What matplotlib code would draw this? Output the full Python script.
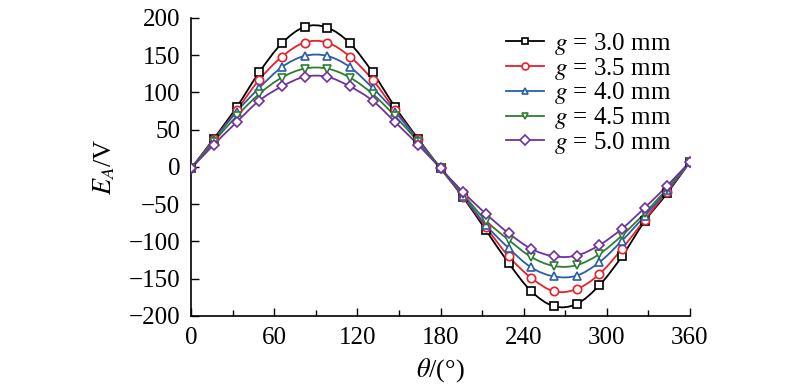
import numpy as np
import matplotlib.pyplot as plt
from matplotlib.path import Path
from matplotlib.patches import PathPatch
from matplotlib.lines import Line2D

plt.rcParams['font.family'] = 'Liberation Serif'
plt.rcParams['mathtext.fontset'] = 'stix'
plt.rcParams['font.size'] = 18

theta = np.arange(23) * 360 / 22

ea_30 = [-2, 38, 80, 127, 166, 188, 187, 166, 127, 80, 38, -2,
         -41, -85, -129, -167, -187, -184, -159, -120, -73, -35, 7]
ea_35 = [-2, 37, 76, 117, 148, 167, 167, 148, 117, 76, 37, -2,
         -40, -81, -120, -149, -167, -164, -144, -110, -71, -33, 7]
ea_40 = [-2, 36, 74, 106, 134, 149, 149, 134, 106, 74, 36, -2,
         -39, -78, -109, -135, -147, -146, -128, -99, -66, -31, 7]
ea_45 = [-2, 34, 68, 98, 120, 132, 132, 120, 98, 68, 34, -2,
         -37, -72, -98, -121, -133, -132, -117, -92, -62, -29, 7]
ea_50 = [-2, 30, 60, 89, 108, 121, 121, 108, 89, 60, 30, -2,
         -34, -63, -89, -110, -120, -119, -105, -83, -55, -25, 7]

series = [ea_30, ea_35, ea_40, ea_45, ea_50]
labels = ['$g$ = 3.0 mm', '$g$ = 3.5 mm', '$g$ = 4.0 mm', '$g$ = 4.5 mm', '$g$ = 5.0 mm']
colors = ['#000000', '#e8202a', '#2a5caa', '#2e7d32', '#7030a0']
markers = ['s', 'o', '^', 'v', 'D']


def smooth_path(x, y):
    # Catmull-Rom segments as cubic Bezier curves
    x = np.asarray(x, float)
    y = np.asarray(y, float)
    pts = np.column_stack([x, y])
    verts = [pts[0]]
    codes = [Path.MOVETO]
    n = len(pts)
    for i in range(n - 1):
        p0 = pts[max(i - 1, 0)]
        p1 = pts[i]
        p2 = pts[i + 1]
        p3 = pts[min(i + 2, n - 1)]
        c1 = p1 + (p2 - p0) / 6
        c2 = p2 - (p3 - p1) / 6
        verts += [c1, c2, p2]
        codes += [Path.CURVE4] * 3
    return Path(verts, codes)


fig = plt.figure(figsize=(8, 3.9), dpi=100)
ax = fig.add_axes([0.239, 0.19, 0.6235, 0.764])

handles = []
for y, lab, c, m in zip(series, labels, colors, markers):
    ax.add_patch(PathPatch(smooth_path(theta, y), facecolor='none',
                           edgecolor=c, lw=1.3, zorder=2))
    ms = 5.5 if m == 'D' else 6
    ax.plot(theta, y, ls='none', marker=m, ms=ms, mfc='white', mec=c,
            mew=1.2, zorder=3)
    handles.append(Line2D([], [], color=c, lw=1.3, marker=m, ms=5,
                          mfc='white', mec=c, mew=1.2, label=lab))

ax.set_xlim(0, 360)
ax.set_ylim(-200, 200)
ax.set_xticks(np.arange(0, 361, 60))
ax.set_xticks(np.arange(30, 361, 60), minor=True)
ax.set_yticks(np.arange(-200, 201, 50))
ax.set_yticklabels([str(v).replace('-', '\u2212') for v in range(-200, 201, 50)])
ax.tick_params(direction='in', length=6, width=1, pad=8)
ax.tick_params(which='minor', direction='in', length=4, width=1)
ax.spines['top'].set_visible(False)
ax.spines['right'].set_visible(False)
ax.spines['left'].set_linewidth(1.2)
ax.spines['bottom'].set_linewidth(1.2)

ax.set_xlabel(r'$\theta$/(°)', fontsize=19, labelpad=5)
ax.set_ylabel(r'$E_A$/V', fontsize=19, labelpad=8)

fig.legend(handles=handles, loc='upper left',
           bbox_to_anchor=(506 / 800, 1 - 31 / 390), frameon=False,
           handlelength=1.5, handletextpad=0.4, labelspacing=-0.05,
           borderpad=0, borderaxespad=0, fontsize=18)

fig.savefig('out.png', dpi=100)
